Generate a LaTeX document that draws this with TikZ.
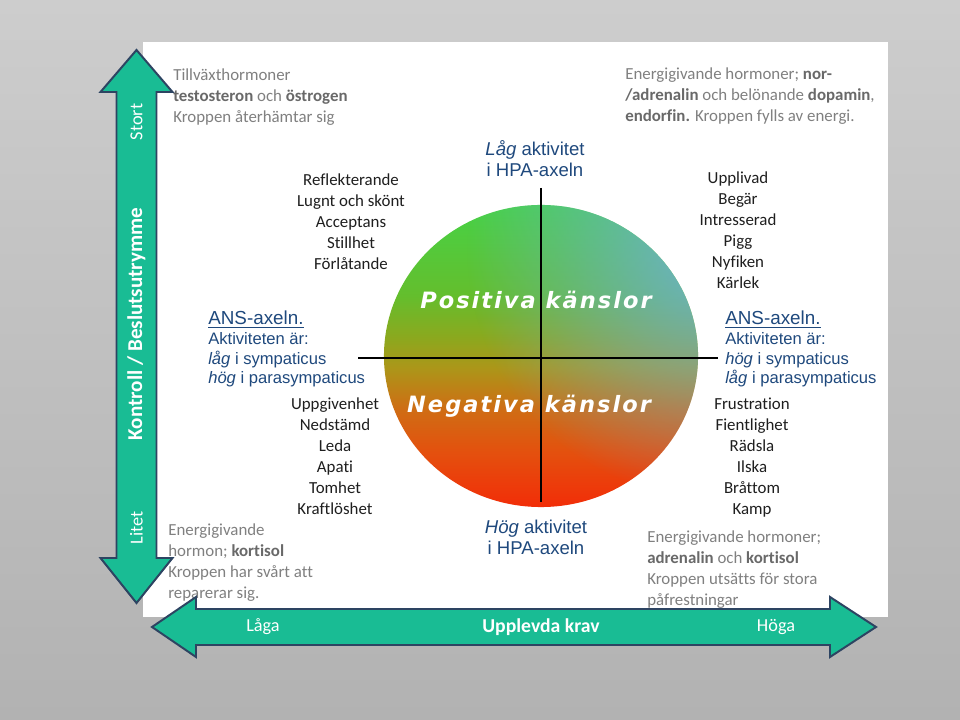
\documentclass[tikz,border=0pt]{standalone}
\usepackage{fontspec}
\setmainfont{Carlito}[Ligatures={TeX,NoCommon}]
\newfontfamily\arialfont{Liberation Sans}
\newfontfamily\widefont[LetterSpace=9, UprightFont={* Bold Oblique}]{DejaVu Sans}
\usetikzlibrary{fadings,positioning}

\definecolor{bgtop}{RGB}{205,205,205}
\definecolor{bgbot}{RGB}{178,178,178}
\definecolor{arrowteal}{RGB}{25,188,148}
\definecolor{arrowedge}{RGB}{45,68,98}
\definecolor{txtgrey}{RGB}{128,128,128}
\definecolor{boldgrey}{RGB}{105,105,105}
\definecolor{navy}{RGB}{31,73,125}
\definecolor{ctop}{RGB}{70,210,70}
\definecolor{cuppermid}{RGB}{100,190,45}
\definecolor{cmid}{RGB}{140,168,30}
\definecolor{colive}{RGB}{172,150,25}
\definecolor{corange}{RGB}{208,108,20}
\definecolor{cdeep}{RGB}{228,80,14}
\definecolor{cred}{RGB}{242,45,8}
\definecolor{cteal}{RGB}{110,175,215}

\pgfdeclareverticalshading{emoshade}{100bp}{color(0bp)=(cred); color(25bp)=(cred);
  color(34bp)=(cdeep); color(41bp)=(corange); color(48bp)=(colive); color(53bp)=(cmid);
  color(60bp)=(cuppermid); color(75bp)=(ctop); color(100bp)=(ctop)}
\tikzfading[name=tealglow, inner color=transparent!0, outer color=transparent!100]

\newcommand{\hormon}[1]{{\bfseries\color{boldgrey}#1}}

\begin{document}
\begin{tikzpicture}[x=0.025cm, y=-0.025cm,
    greytxt/.style={anchor=north west, inner sep=0pt, align=left, text=txtgrey, font=\fontsize{12}{14.8}\selectfont},
    feel/.style={anchor=north, inner sep=0pt, align=center, text=black!88, font=\fontsize{12}{14.9}\selectfont},
    ans/.style={anchor=north west, inner sep=0pt, align=left, text=navy, font=\arialfont\fontsize{11.8}{14}\selectfont},
    hpa/.style={anchor=north, inner sep=0pt, align=center, text=navy, font=\arialfont\fontsize{13.2}{15}\selectfont},
    emo/.style={inner sep=0pt, text=white, font=\widefont\fontsize{16}{18}\selectfont},
    arrtxt/.style={inner sep=0pt, text=white, font=\fontsize{13}{15}\selectfont},
    bigarrow/.style={fill=arrowteal, draw=arrowedge, line width=1.4pt, line join=miter},
    axisline/.style={line width=1.1pt, black}
]
\useasboundingbox (0,0) rectangle (960,720);
\shade[top color=bgtop, bottom color=bgbot] (0,0) rectangle (960,720);
\fill[white] (143,42) rectangle (888,617);

\shade[shading=emoshade] (541,356) ellipse [x radius=3.925cm, y radius=3.775cm];
\begin{scope}
\clip (541,356) ellipse [x radius=3.925cm, y radius=3.775cm];
\fill[cteal, path fading=tealglow, fill opacity=0.95] (715,250) circle [radius=6.2cm];
\end{scope}
\node[inner sep=0pt, minimum width=7.85cm, minimum height=7.55cm] (emotion) at (541,356) {};

\coordinate (vtop) at (541,188);
\coordinate (vbot) at (541,502);
\coordinate (hleft) at (358,358);
\coordinate (hright) at (718,358);
\draw[axisline] (vtop) -- (vbot);
\draw[axisline] (hleft) -- (hright);

\node[emo] (pos) at (536,300) {Positiva känslor};
\node[emo] (neg) at (529,406) {Negativa känslor};

\node[hpa] (hpalow) at (535,140) {\itshape Låg\upshape{} aktivitet\\i HPA-axeln};
\node[hpa] (hpahigh) at (536,520) {\itshape Hög\upshape{} aktivitet\\i HPA-axeln};

\node[ans] (ansleft) at (208,311) {{\fontsize{13.4}{16}\selectfont\underline{ANS-axeln.}}\\Aktiviteten är:\\\textit{låg} i sympaticus\\\textit{hög} i parasympaticus};
\node[ans] (ansright) at (725,311) {{\fontsize{13.4}{16}\selectfont\underline{ANS-axeln.}}\\Aktiviteten är:\\\textit{hög} i sympaticus\\\textit{låg} i parasympaticus};

\node[feel] (calm) at (351,174) {Reflekterande\\Lugnt och skönt\\Acceptans\\Stillhet\\Förlåtande};
\node[feel] (alive) at (738,172) {Upplivad\\Begär\\Intresserad\\Pigg\\Nyfiken\\Kärlek};
\node[feel] (lost) at (335,398) {Uppgivenhet\\Nedstämd\\Leda\\Apati\\Tomhet\\Kraftlöshet};
\node[feel] (fight) at (752,398) {Frustration\\Fientlighet\\Rädsla\\Ilska\\Bråttom\\Kamp};

\node[greytxt] (growth) at (173,69) {Tillväxthormoner\\\hormon{testosteron} och \hormon{östrogen}\\Kroppen återhämtar sig};
\node[greytxt] (energy) at (625,68) {Energigivande hormoner; \hormon{nor-}\\\hormon{/adrenalin} och belönande \hormon{dopamin},\\\hormon{endorfin.} Kroppen fylls av energi.};
\node[greytxt] (cortisol) at (168,524) {Energigivande\\hormon; \hormon{kortisol}\\Kroppen har svårt att\\reparerar sig.};
\node[greytxt] (strain) at (647,531) {Energigivande hormoner;\\\hormon{adrenalin} och \hormon{kortisol}\\Kroppen utsätts för stora\\påfrestningar};

\draw[bigarrow] (136.5,50) -- (172.5,92) -- (156.5,92) -- (156.5,558) -- (172.5,558) -- (136.5,603)
    -- (100.5,558) -- (116.5,558) -- (116.5,92) -- (100.5,92) -- cycle;
\draw[bigarrow] (152,627) -- (196,597) -- (196,609) -- (830,609) -- (830,597) -- (876,627)
    -- (830,657) -- (830,645) -- (196,645) -- (196,657) -- cycle;

\node[arrtxt, rotate=90] (big) at (136.5,122) {Stort};
\node[arrtxt, rotate=90, font=\bfseries\fontsize{15}{18}\selectfont] (control) at (136.5,324) {Kontroll / Beslutsutrymme};
\node[arrtxt, rotate=90] (small) at (136.5,528) {Litet};

\node[arrtxt] (low) at (263,627) {Låga};
\node[arrtxt, font=\bfseries\fontsize{14}{17}\selectfont] (demand) at (541,627) {Upplevda krav};
\node[arrtxt] (high) at (776,627) {Höga};
\end{tikzpicture}
\end{document}
